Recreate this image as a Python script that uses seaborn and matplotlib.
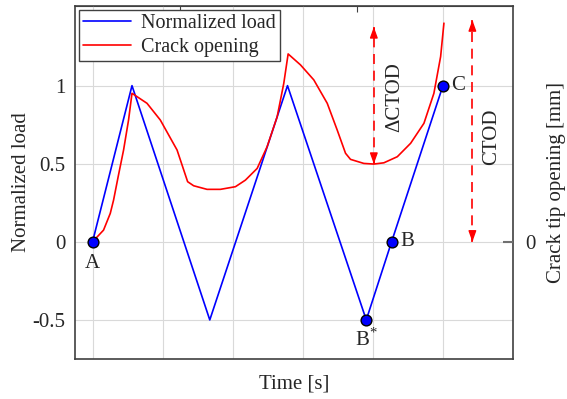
import matplotlib
matplotlib.use("Agg")
import matplotlib.pyplot as plt
import numpy as np
import seaborn as sns

# time axis in grid units (one grid step = one unit)
load_t = [0.0, 0.563, 1.673, 2.782, 3.906, 4.267, 5.0]
load_y = [0.0, 1.0, -0.5, 1.0, -0.5, 0.0, 1.0]

cto_t = [0.0, 0.157, 0.253, 0.30, 0.367, 0.443, 0.514, 0.563, 0.777, 0.967,
         1.206, 1.357, 1.443, 1.634, 1.824, 2.039, 2.181, 2.349, 2.491, 2.634,
         2.729, 2.791, 2.967, 3.157, 3.349, 3.491, 3.61, 3.681, 3.871, 4.014,
         4.157, 4.349, 4.539, 4.729, 4.871, 4.967, 5.014]
cto_y = [0.0, 0.075, 0.182, 0.267, 0.42, 0.588, 0.78, 0.951, 0.887, 0.78,
         0.588, 0.385, 0.359, 0.336, 0.336, 0.353, 0.395, 0.47, 0.609, 0.80,
         1.015, 1.203, 1.133, 1.037, 0.887, 0.716, 0.567, 0.528, 0.502, 0.498,
         0.506, 0.545, 0.631, 0.759, 0.951, 1.186, 1.40]

# marked points A, B*, B, C
pt_names = ["A", "B*", "B", "C"]
pt_t = [0.0, 3.906, 4.267, 5.0]
pt_y = [0.0, -0.5, 0.0, 1.0]

sns.set_style("whitegrid", {"grid.color": "#d9d9d9", "axes.edgecolor": "#404040"})
plt.rcParams["font.family"] = ["Liberation Serif", "DejaVu Serif"]
plt.rcParams["mathtext.fontset"] = "custom"
plt.rcParams["mathtext.rm"] = "Liberation Serif"
plt.rcParams["font.size"] = 15

fig = plt.figure(figsize=(5.67, 3.99), dpi=100)
ax = fig.add_axes([0.1323, 0.1003, 0.9048 - 0.1323, 0.985 - 0.1003])

sns.lineplot(x=load_t, y=load_y, ax=ax, color="#0000ff", lw=1.2, sort=False,
             estimator=None, label="Normalized load")
sns.lineplot(x=cto_t, y=cto_y, ax=ax, color="#ff0000", lw=1.2, sort=False,
             estimator=None, label="Crack opening")
ax.scatter(pt_t, pt_y, s=60, color="#0000ff", edgecolor="black", lw=1.0, zorder=5)

# point labels
ax.text(pt_t[0], pt_y[0] - 0.08, "A", ha="center", va="top")
ax.text(pt_t[1], pt_y[1] - 0.055, r"B$^{*}$", ha="center", va="top")
ax.text(pt_t[2] + 0.12, pt_y[2], "B", ha="left", va="center")
ax.text(pt_t[3] + 0.12, pt_y[3], "C", ha="left", va="center")

# dashed arrows for dCTOD and CTOD
def dashed_arrow(x, y0, y1):
    ax.plot([x, x], [y0, y1], color="#ff0000", lw=1.2, dashes=(6, 4), zorder=4)
    for a, b in ((y1, y1 - 0.02), (y0, y0 + 0.02)):
        ax.annotate("", xy=(x, a), xytext=(x, b),
                    arrowprops=dict(arrowstyle="-|>,head_length=0.5,head_width=0.18",
                                    color="#ff0000", lw=1.0, mutation_scale=13,
                                    shrinkA=0, shrinkB=0))

dashed_arrow(4.014, 0.498, 1.376)
dashed_arrow(5.42, 0.0, 1.42)
ax.text(4.31, 0.925, "ΔCTOD", rotation=90, ha="center", va="center")
ax.text(5.69, 0.67, "CTOD", rotation=90, ha="center", va="center")

ax.set_xlim(-0.25, 6.0)
ax.set_ylim(-0.75, 1.51)
ax.set_xticks(range(6))
ax.set_xticklabels([])
ax.set_yticks([-0.5, 0, 0.5, 1])
ax.set_yticklabels(["-0.5", "0", "0.5", "1"])
ax.tick_params(length=0, pad=7)
ax.set_xlabel("Time [s]", labelpad=4)
ax.set_ylabel("Normalized load", labelpad=1)
for s in ax.spines.values():
    s.set_linewidth(1.2)

# small tick marks on the top edge
top = ax.secondary_xaxis("top")
top.set_xticks([1.253, 3.767])
top.set_xticklabels([])
top.tick_params(direction="in", length=4, color="#404040")

ax2 = ax.twinx()
ax2.set_ylim(ax.get_ylim())
ax2.set_yticks([0])
ax2.grid(False)
ax2.tick_params(direction="in", length=7, width=1.5, color="#707070", pad=9)
ax2.set_ylabel("Crack tip opening [mm]", labelpad=8)
for s in ax2.spines.values():
    s.set_visible(False)

leg = ax.legend(loc="upper left", handlelength=2.4, borderaxespad=0.2,
                fancybox=False, framealpha=1, borderpad=0.2, labelspacing=0.25,
                handletextpad=0.5, fontsize=14.5)
leg.get_frame().set_edgecolor("#404040")
leg.get_frame().set_linewidth(1.0)

fig.savefig("out.png", dpi=100)
